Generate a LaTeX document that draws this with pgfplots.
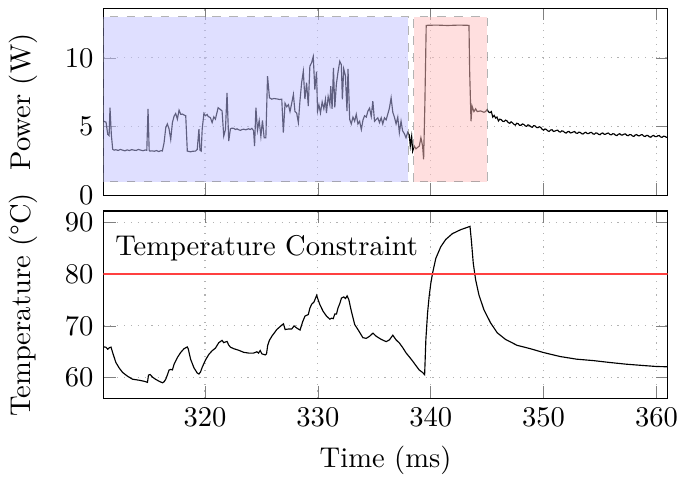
\documentclass[border=0pt]{standalone}
\usepackage{pgfplots}
\pgfplotsset{compat=1.18}
\usetikzlibrary{calc}
\begin{document}
\begin{tikzpicture}
\pgfplotsset{every axis/.append style={
  scale only axis, width=197.6pt, height=65.6pt,
  xmin=311, xmax=361,
  xtick={320,330,340,350,360},
  grid=major, major grid style={dotted, black!30},
  ylabel style={at={(axis description cs:-0.098,0.5)}, anchor=south},
}}
\begin{axis}[name=top, ymin=0, ymax=13.6, ytick={0,5,10}, xticklabels={},
  ylabel={Power (W)}]
\addplot[black, thin] coordinates {
(311.00,5.41) (311.15,5.35) (311.23,5.33) (311.38,4.44) (311.50,4.35) (311.58,6.38) (311.70,4.40) (311.82,3.36)
(311.95,3.30) (312.1,3.33) (312.3,3.28) (312.5,3.35) (312.7,3.30) (312.9,3.25) (313.1,3.32) (313.3,3.27)
(313.5,3.34) (313.7,3.30) (313.9,3.28) (314.1,3.35) (314.3,3.30) (314.5,3.26) (314.7,3.31) (314.84,3.29)
(314.95,6.30) (315.05,3.30) (315.11,3.23) (315.3,3.25) (315.5,3.22) (315.7,3.27) (315.9,3.20) (316.1,3.26)
(316.22,3.24) (316.37,3.83) (316.52,4.93) (316.66,5.20) (316.81,4.85) (316.96,4.08) (317.11,5.30) (317.26,5.77)
(317.40,5.96) (317.55,5.55) (317.70,6.20) (317.85,5.90) (318.0,5.92) (318.14,5.85) (318.29,5.80) (318.43,3.23)
(318.6,3.20) (318.72,3.18) (318.9,3.22) (319.16,3.23) (319.31,3.35) (319.46,4.83) (319.55,3.30) (319.66,3.23)
(319.75,4.83) (319.9,5.96) (320.04,5.80) (320.19,5.89) (320.28,5.75) (320.48,5.65) (320.63,5.30) (320.78,5.72)
(320.92,5.55) (321.16,6.38) (321.36,6.25) (321.51,6.15) (321.66,4.32) (321.81,4.80) (321.95,7.46) (322.10,3.96)
(322.25,4.85) (322.4,4.90) (322.54,4.88) (322.7,4.80) (322.83,4.85) (322.98,4.78) (323.13,4.74) (323.3,4.80)
(323.42,4.82) (323.6,4.78) (323.86,4.85) (324.0,4.80) (324.15,4.88) (324.30,4.72) (324.39,3.60) (324.51,6.38)
(324.65,4.74) (324.80,5.45) (324.95,4.30) (325.09,5.45) (325.24,4.20) (325.39,4.20) (325.54,8.67) (325.71,7.10)
(325.92,7.00) (326.1,7.05) (326.36,7.02) (326.6,6.98) (326.80,7.00) (326.94,4.57) (327.09,6.70) (327.24,6.45)
(327.39,6.60) (327.53,6.10) (327.68,6.70) (327.83,7.34) (327.97,6.10) (328.12,6.00) (328.27,5.30) (328.41,6.85)
(328.56,8.19) (328.71,9.03) (328.85,7.00) (329.0,8.19) (329.15,6.50) (329.29,9.39) (329.44,9.64) (329.59,10.10)
(329.73,7.70) (329.88,9.00) (329.97,6.13) (330.09,6.60) (330.23,6.00) (330.38,6.80) (330.53,6.30) (330.67,6.98)
(330.76,6.00) (330.91,7.20) (331.06,6.60) (331.14,7.94) (331.26,6.30) (331.38,9.27) (331.50,6.40) (331.64,8.10)
(331.79,9.00) (331.94,9.75) (332.08,9.50) (332.17,6.98) (332.29,9.20) (332.44,8.70) (332.58,6.13) (332.67,9.20)
(332.82,5.53) (332.96,5.20) (333.11,5.70) (333.26,5.40) (333.40,5.90) (333.55,5.20) (333.70,5.40) (333.85,4.80)
(334.0,5.50) (334.14,5.80) (334.29,5.70) (334.43,6.13) (334.58,6.35) (334.73,5.75) (334.87,6.86) (335.02,5.40)
(335.17,5.53) (335.31,5.65) (335.46,5.30) (335.61,5.65) (335.75,5.20) (335.90,5.65) (336.05,5.50) (336.19,5.90)
(336.34,6.35) (336.49,7.10) (336.64,6.05) (336.78,5.70) (336.93,5.20) (337.08,5.70) (337.22,4.57) (337.37,5.40)
(337.51,4.70) (337.66,4.50) (337.81,4.20) (337.96,4.60) (338.10,4.40) (338.19,3.60) (338.31,4.30) (338.40,3.23)
(338.54,3.60) (338.69,3.40) (338.84,3.50) (338.99,3.60) (339.13,4.20) (339.28,3.60) (339.37,2.63) (339.48,6.60)
(339.60,12.36) (340.5,12.38) (341.5,12.35) (342.5,12.38) (343.39,12.36) (343.45,9.03) (343.57,5.40) (343.66,6.50)
(343.83,6.10) (343.98,6.30) (344.12,6.10) (344.42,6.15) (344.71,6.05) (344.86,6.10) (345.0,6.25)
(345.12,6.08) (345.25,6.02) (345.37,6.10) (345.5,5.70) (345.62,5.82) (345.75,5.63) (345.87,5.70) (346.0,5.42)
(346.12,5.55) (346.25,5.51) (346.37,5.40) (346.5,5.38) (346.62,5.48) (346.75,5.43) (346.87,5.30) (347.0,5.25)
(347.12,5.36) (347.25,5.28) (347.37,5.18) (347.5,5.12) (347.62,5.25) (347.75,5.22) (347.87,5.10) (348.0,5.11)
(348.12,5.20) (348.25,5.17) (348.37,5.06) (348.5,5.03) (348.62,5.14) (348.75,5.09) (348.87,5.00) (349.0,4.96)
(349.12,5.08) (349.25,5.06) (349.37,4.95) (349.5,4.93) (349.62,5.00) (349.75,4.95) (349.87,4.82) (350.0,4.75)
(350.12,4.84) (350.25,4.80) (350.37,4.70) (350.5,4.66) (350.62,4.76) (350.75,4.78) (350.87,4.66) (351.0,4.68)
(351.12,4.73) (351.25,4.75) (351.37,4.64) (351.5,4.61) (351.62,4.70) (351.75,4.67) (351.87,4.58) (352.0,4.54)
(352.12,4.63) (352.25,4.66) (352.37,4.55) (352.5,4.57) (352.62,4.62) (352.75,4.65) (352.87,4.54) (353.0,4.52)
(353.12,4.60) (353.25,4.59) (353.37,4.50) (353.5,4.47) (353.62,4.56) (353.75,4.60) (353.87,4.50) (354.0,4.51)
(354.12,4.57) (354.25,4.59) (354.37,4.48) (354.5,4.46) (354.62,4.55) (354.75,4.53) (354.87,4.45) (355.0,4.42)
(355.12,4.51) (355.25,4.55) (355.37,4.45) (355.5,4.46) (355.62,4.52) (355.75,4.54) (355.87,4.44) (356.0,4.41)
(356.12,4.49) (356.25,4.48) (356.37,4.39) (356.5,4.36) (356.62,4.45) (356.75,4.49) (356.87,4.40) (357.0,4.40)
(357.12,4.46) (357.25,4.48) (357.37,4.38) (357.5,4.35) (357.62,4.43) (357.75,4.42) (357.87,4.33) (358.0,4.30)
(358.12,4.40) (358.25,4.43) (358.37,4.35) (358.5,4.34) (358.62,4.41) (358.75,4.42) (358.87,4.32) (359.0,4.29)
(359.12,4.37) (359.25,4.36) (359.37,4.27) (359.5,4.24) (359.62,4.33) (359.75,4.37) (359.87,4.29) (360.0,4.28)
(360.12,4.34) (360.25,4.36) (360.37,4.26) (360.5,4.23) (360.62,4.31) (360.75,4.30) (360.87,4.24) (361.0,4.22)
};
\draw[draw=gray, draw opacity=0.6, dashed, fill=blue!25, fill opacity=0.5] (axis cs:311,1) rectangle (axis cs:338,13);
\draw[draw=gray, draw opacity=0.6, dashed, fill=red!25, fill opacity=0.5] (axis cs:338.5,1) rectangle (axis cs:345,13);
\end{axis}
\begin{axis}[name=bottom, at={($(top.south west)+(0,-5.4pt)$)}, anchor=north west,
  ymin=56, ymax=92.2, ytick={60,70,80,90},
  xlabel={Time (ms)}, ylabel={Temperature (\textdegree C)}]
\addplot[black, thin] coordinates {
(311.0,65.94) (311.2,65.9) (311.38,65.5) (311.53,65.8) (311.67,65.9) (311.82,64.8) (312.1,62.93) (312.4,61.85)
(312.7,61.0) (313.15,60.25) (313.58,59.7) (314.17,59.5) (314.61,59.3) (314.9,59.1) (314.99,60.5) (315.14,60.6)
(315.35,60.1) (315.64,59.65) (315.94,59.3) (316.23,59.0) (316.37,59.2) (316.52,59.7) (316.66,60.5) (316.81,61.46)
(316.96,61.6) (317.11,61.5) (317.26,62.6) (317.55,63.89) (317.84,64.86) (318.14,65.6) (318.43,65.94) (318.52,65.5)
(318.72,63.57) (319.02,61.9) (319.31,60.9) (319.46,60.7) (319.6,61.1) (319.75,62.0) (320.04,63.4) (320.34,64.5)
(320.63,65.2) (320.92,65.7) (321.22,66.76) (321.51,67.2) (321.66,66.76) (321.81,66.9) (321.95,67.0) (322.1,66.3)
(322.25,65.9) (322.54,65.6) (322.98,65.3) (323.42,64.9) (323.86,64.75) (324.3,64.75) (324.6,65.0) (324.74,64.75)
(324.89,65.25) (325.04,64.6) (325.33,64.4) (325.45,64.6) (325.55,66.2) (325.7,67.2) (325.92,68.0) (326.36,69.3)
(326.8,70.15) (326.95,70.4) (327.1,69.3) (327.4,69.4) (327.68,69.4) (327.89,70.0) (328.12,69.6) (328.42,69.2)
(328.65,70.8) (328.86,71.9) (329.15,72.2) (329.3,73.47) (329.45,74.2) (329.65,74.6) (329.89,75.9) (330.03,75.0)
(330.18,74.1) (330.47,72.8) (330.77,71.88) (331.06,71.3) (331.21,71.5) (331.36,71.4) (331.5,72.3) (331.65,72.3)
(331.79,73.5) (331.94,74.3) (332.09,75.38) (332.3,75.6) (332.45,75.3) (332.59,75.8) (332.74,75.1) (332.97,72.8)
(333.26,70.27) (333.55,69.3) (333.99,67.72) (334.29,67.6) (334.58,68.0) (334.88,68.6) (335.17,68.0) (335.61,67.4)
(336.05,66.96) (336.34,67.3) (336.64,68.2) (336.93,67.3) (337.22,66.7) (337.52,65.8) (337.81,64.8) (338.11,64.0)
(338.4,63.2) (338.7,62.3) (338.99,61.46) (339.28,61.0) (339.46,60.57) (339.57,67.4) (339.72,72.5) (339.86,75.7)
(340.01,78.26) (340.16,80.17) (340.45,83.05) (340.89,85.3) (341.33,86.7) (341.92,87.83) (342.66,88.6) (343.48,89.23)
(343.6,86.55) (343.77,82.1) (343.98,78.9) (344.27,76.0) (344.71,73.14) (345.3,70.6) (345.89,68.68) (346.62,67.4)
(347.65,66.25) (348.82,65.6) (350.0,64.85) (351.47,64.08) (352.93,63.57) (354.4,63.3) (355.87,62.93) (357.34,62.6)
(358.81,62.35) (359.98,62.16) (361.0,62.1)
};
\addplot[red!75, line width=0.7pt] coordinates {(311,80) (361,80)};
\node[anchor=west, inner sep=0pt] at (axis cs:312,85) {Temperature Constraint};
\end{axis}
\pgfresetboundingbox
\path (bottom.outer south west) rectangle ($(top.north east)+(3.6pt,2.9pt)$);
\end{tikzpicture}
\end{document}
